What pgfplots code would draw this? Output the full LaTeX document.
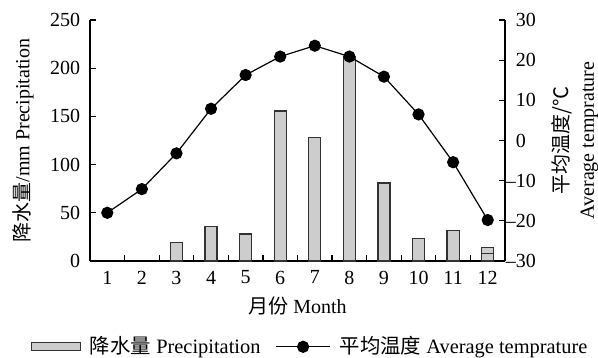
\documentclass[border=0pt]{standalone}
\usepackage{fontspec}
\setmainfont{Liberation Serif}
\newfontfamily\cjk{Noto Sans CJK SC}
\usepackage{pgfplots}
\usepackage{pgfplotstable}
\pgfplotsset{compat=1.18}
\definecolor{barfill}{RGB}{205,205,205}
\definecolor{baredge}{RGB}{50,50,50}

\pgfplotsset{
  barleg/.style={legend image code/.code={\draw[##1] (0pt,-4pt) rectangle (49pt,4pt);}},
  lineleg/.style={legend image code/.code={\draw[mark repeat=2,mark phase=2,##1] plot coordinates {(0pt,0pt) (27pt,0pt) (54pt,0pt)};}},
}

\pgfplotstableread{
m p
3 19.5
4 36
5 28
6 155.5
7 128
8 212.5
9 81
10 23.5
11 32
12 14
}\precip

\pgfplotstableread{
m t
1 -18
2 -12.1
3 -3.2
4 7.9
5 16.3
6 20.9
7 23.6
8 20.9
9 15.9
10 6.5
11 -5.4
12 -19.8
}\temp

\begin{document}
\fontsize{20}{23}\selectfont
\begin{tikzpicture}[x=1pt,y=1pt]
\useasboundingbox (0,0) rectangle (598,357);
\pgfplotsset{
  common/.style={
    at={(90pt,96pt)}, anchor=south west,
    scale only axis, width=415pt, height=241pt,
    xmin=0.5, xmax=12.5,
    tick align=inside,
    axis line style={line width=1.2pt, black},
    major tick length=6pt, minor tick length=6pt,
    tick style={line width=1.2pt, black},
    font=\fontsize{20}{23}\selectfont,
    tick label style={font=\fontsize{20}{23}\selectfont},
    /pgf/number format/assume math mode=true,
  }
}
\begin{axis}[common,
  axis x line*=bottom, axis y line*=left,
  ymin=0, ymax=250,
  xtick={1,...,12},
  minor xtick={1.5,2.5,...,11.5},
  major x tick style={draw=none},
  ytick={0,50,...,250},
  xticklabel style={yshift=-3pt},
  yticklabel style={xshift=-3pt},
  xlabel={{\cjk 月份} Month},
  xlabel style={at={(axis description cs:0.5,-0.1867)}, anchor=center},
  ylabel={{\cjk 降水量}/mm Precipitation},
  every axis y label/.style={at={(axis description cs:-0.1614,0.5)}, rotate=90, anchor=center},
]
\addplot[ybar, bar width=0.35, bar shift=0pt, fill=barfill, draw=baredge, line width=1.3pt] table[x=m,y=p]{\precip};
\addplot[ybar, bar width=0.35, bar shift=0pt, fill=barfill, draw=baredge, line width=1.3pt] coordinates {(12,8)};
\end{axis}
\begin{axis}[common,
  axis x line=none, axis y line*=right,
  ymin=-30, ymax=30,
  ytick={-30,-20,...,30},
  yticklabels={\mbox{\llap{–}30},\mbox{\llap{–}20},\mbox{\llap{–}10},0,10,20,30},
  yticklabel style={anchor=west, xshift=4pt},
  ylabel={{\cjk 平均温度/℃}\\Average temprature},
  every axis y label/.style={at={(axis description cs:1.1687,0.5)}, rotate=90, anchor=center, align=center, font=\fontsize{20}{25}\selectfont},
  legend style={at={(axis description cs:0.529,-0.356)}, anchor=center, draw=none, fill=none,
    font=\fontsize{20.4}{23}\selectfont,
    nodes={inner sep=1pt},
    /tikz/every odd column/.append style={column sep=8pt},
    /tikz/every even column/.append style={column sep=14pt}},
  legend columns=-1,
]
\addlegendimage{fill=barfill, draw=baredge, line width=1.3pt, barleg}
\addlegendentry{{\cjk 降水量} Precipitation}
\addplot[black, line width=1.2pt, mark=*, mark size=5.5pt, lineleg]
  table[x=m,y=t]{\temp};
\addlegendentry{{\cjk 平均温度} Average temprature}
\end{axis}
\end{tikzpicture}
\end{document}
